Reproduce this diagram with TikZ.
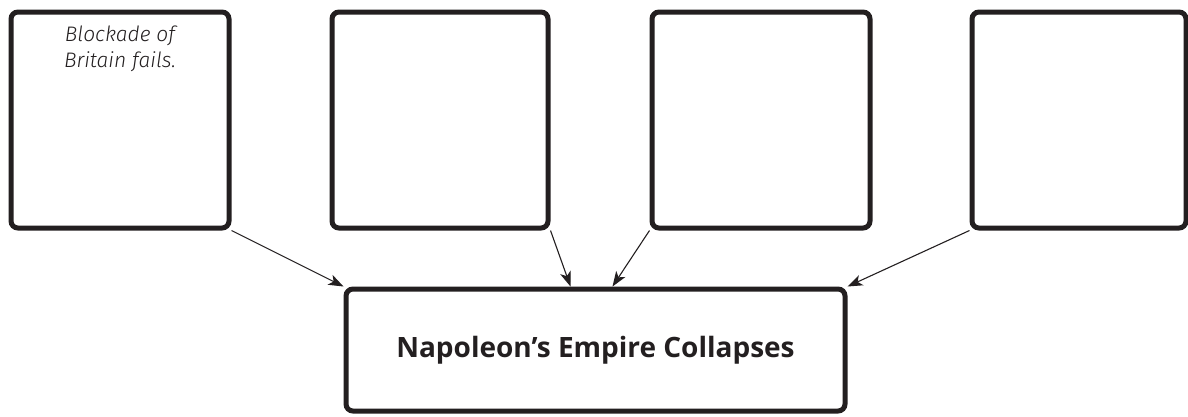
\documentclass[tikz,border=0pt]{standalone}
\usepackage{fontspec}
\setmainfont{Open Sans}
\newfontfamily\hand{Fira Sans Light}
\usetikzlibrary{arrows.meta,calc}
\definecolor{ink}{HTML}{231F20}
\begin{document}
\begin{tikzpicture}[x=1pt,y=-1pt,
  cbox/.style={draw=ink,line width=5pt,rounded corners=7pt,inner sep=0pt,fill=white},
  arr/.style={draw=ink,line width=1.1pt,-{Stealth[length=15pt,width=11pt,inset=4pt]}}]
\useasboundingbox (0,0) rectangle (1188,416);
\node[cbox,minimum width=218pt,minimum height=216pt] (b1) at (120,120) {};
\node[cbox,minimum width=216pt,minimum height=216pt] (b2) at (440,120) {};
\node[cbox,minimum width=218pt,minimum height=216pt] (b3) at (761,120) {};
\node[cbox,minimum width=214pt,minimum height=216pt] (b4) at (1079,120) {};
\node[cbox,minimum width=499pt,minimum height=122pt,font=\bfseries\fontsize{28}{32}\selectfont,text=ink] (b5) at (595.5,350) {Napoleon’s Empire Collapses};
\node[font=\hand\itshape\fontsize{21}{26.5}\selectfont,text=ink,align=center,anchor=north] (t1) at (120,22) {Blockade of\\Britain fails.};
\draw[arr] (b1.south east) -- (b5.north west);
\draw[arr] (b2.south east) -- ($(b5.north west)+(227,0)$);
\draw[arr] (b3.south west) -- ($(b5.north west)+(269,0)$);
\draw[arr] (b4.south west) -- (b5.north east);
\end{tikzpicture}
\end{document}
